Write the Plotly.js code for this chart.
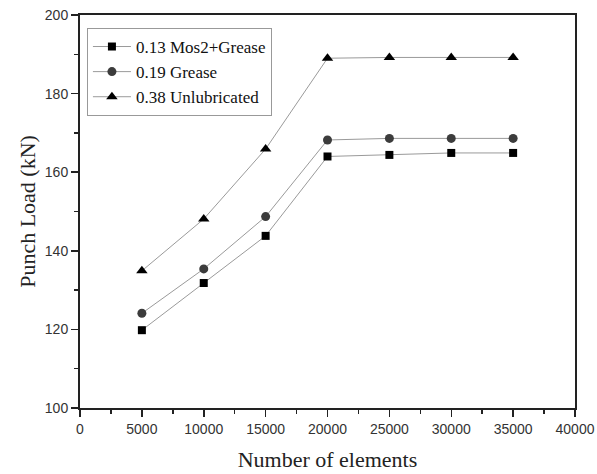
<!DOCTYPE html>
<html>
<head>
<meta charset="utf-8">
<script src="https://cdn.plot.ly/plotly-3.0.1.min.js"></script>
<style>html,body{margin:0;padding:0;background:#fff;}#chart{width:597px;height:474px;}</style>
</head>
<body>
<div id="chart"></div>
<script>
var elements = [5000, 10000, 15000, 20000, 25000, 30000, 35000];
var mos2Grease = [119.8, 131.8, 143.8, 164.0, 164.4, 164.9, 164.9];
var grease = [124.1, 135.4, 148.7, 168.2, 168.6, 168.6, 168.6];
var unlubricated = [134.9, 148.1, 165.9, 189.0, 189.2, 189.2, 189.2];
var seriesNames = ['0.13 Mos2+Grease', '0.19 Grease', '0.38 Unlubricated'];

var lineStyle = {color: '#9a9a9a', width: 1};
var traces = [
  {x: elements, y: mos2Grease, name: seriesNames[0], mode: 'lines+markers', line: lineStyle,
   marker: {symbol: 'square', size: 8, color: '#000'}},
  {x: elements, y: grease, name: seriesNames[1], mode: 'lines+markers', line: lineStyle,
   marker: {symbol: 'circle', size: 9, color: '#3c3c3c'}},
  {x: elements, y: unlubricated, name: seriesNames[2], mode: 'lines+markers', line: lineStyle,
   marker: {symbol: 'triangle-up', size: 10, color: '#000'}}
];

var serif = 'Liberation Serif, Times New Roman, serif';
var sans = 'Liberation Sans, Arial, sans-serif';
var layout = {
  width: 597, height: 474,
  margin: {l: 80, r: 22, t: 15, b: 66},
  paper_bgcolor: '#fff', plot_bgcolor: '#fff',
  showlegend: true,
  legend: {x: 0.014, y: 0.967, xanchor: 'left', yanchor: 'top',
    bgcolor: '#fff', bordercolor: '#999', borderwidth: 1,
    font: {family: serif, size: 17, color: '#111'},
    itemwidth: 38, tracegroupgap: 0},
  xaxis: {
    range: [0, 40000], dtick: 5000, tick0: 0, tickformat: 'd',
    showgrid: false, zeroline: false,
    showline: true, linecolor: '#222', linewidth: 2, mirror: true,
    ticks: 'outside', ticklen: 7, tickcolor: '#222', tickwidth: 1.5,
    minor: {dtick: 2500, ticks: 'outside', ticklen: 4, tickcolor: '#222', tickwidth: 1.5},
    tickfont: {family: sans, size: 14, color: '#333'},
    title: {text: 'Number of elements', standoff: 16,
      font: {family: serif, size: 22, color: '#222'}}
  },
  yaxis: {
    range: [100, 200], dtick: 20, tick0: 100,
    showgrid: false, zeroline: false,
    showline: true, linecolor: '#222', linewidth: 2, mirror: true,
    ticks: 'outside', ticklen: 7, tickcolor: '#222', tickwidth: 1.5,
    minor: {dtick: 10, ticks: 'outside', ticklen: 4, tickcolor: '#222', tickwidth: 1.5},
    tickfont: {family: sans, size: 14, color: '#333'},
    title: {text: 'Punch Load (kN)', standoff: 3,
      font: {family: serif, size: 22, color: '#222'}}
  }
};

Plotly.newPlot('chart', traces, layout, {displayModeBar: false, staticPlot: true});
</script>
</body>
</html>
